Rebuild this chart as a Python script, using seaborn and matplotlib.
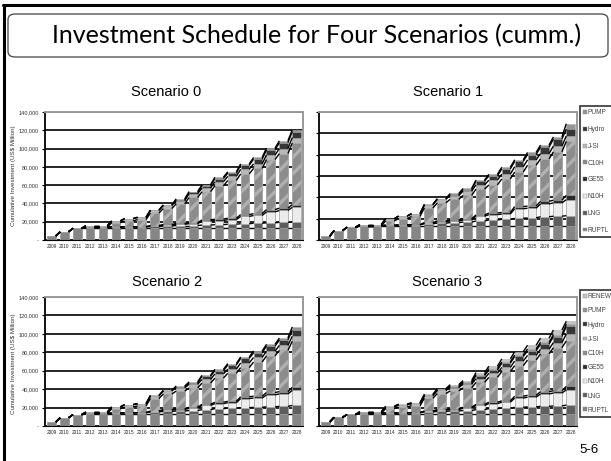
import matplotlib
matplotlib.use("Agg")
import matplotlib.pyplot as plt
from matplotlib.patches import Patch, FancyBboxPatch
from matplotlib.lines import Line2D
import numpy as np
import pandas as pd
import seaborn as sns

# ---- data: cumulative investment per technology (stacked), 2009-2028 ----
years = [str(y) for y in range(2009, 2029)]
techs = ["RUPTL", "LNG", "N10H", "GE55", "C10H", "J-SI", "Hydro", "PUMP", "RENEW"]

scenario0 = {
    "RUPTL": [4400, 9000, 12800, 12800, 12800, 12800, 12800, 12800, 12800, 12800, 12800, 12800, 12800, 12800, 12800, 12800, 12800, 12800, 12800, 12800],
    "LNG":   [0, 0, 0, 1400, 1400, 1500, 1600, 1700, 2000, 2500, 3000, 3000, 3500, 4000, 4500, 5000, 5500, 6000, 6500, 7000],
    "N10H":  [0, 0, 0, 0, 0, 0, 0, 0, 500, 1000, 1500, 2000, 4500, 4500, 5000, 8000, 8500, 12000, 13000, 16000],
    "GE55":  [0, 0, 0, 0, 0, 0, 0, 0, 500, 600, 800, 1000, 1200, 1500, 1500, 2000, 2000, 2500, 2500, 3000],
    "C10H":  [0, 0, 0, 0, 0, 4500, 6500, 7800, 13600, 17500, 21400, 27700, 30800, 36400, 41300, 44500, 49500, 54700, 59700, 67300],
    "J-SI":  [0, 0, 0, 1500, 1500, 2000, 2500, 2500, 3000, 3500, 3500, 4000, 4000, 4500, 4500, 5000, 5000, 5000, 5500, 6000],
    "Hydro": [0, 0, 0, 0, 0, 0, 0, 0, 0, 0, 1000, 1500, 2500, 3500, 3500, 4500, 5000, 5500, 6500, 6500],
    "PUMP":  [0, 0, 0, 0, 0, 0, 0, 0, 500, 500, 1000, 1000, 1000, 1500, 1500, 1500, 2000, 2000, 2000, 2000],
}

scenario1 = {
    "RUPTL": [3500, 8800, 12000, 12800, 12800, 12800, 12800, 12800, 12800, 12800, 12800, 12800, 12800, 12800, 12800, 12800, 12800, 12800, 12800, 12800],
    "LNG":   [0, 0, 0, 700, 700, 1000, 1200, 1500, 2500, 3000, 3500, 4000, 5000, 6000, 6500, 7500, 8000, 9000, 9500, 10000],
    "N10H":  [0, 0, 0, 0, 0, 0, 0, 0, 500, 1500, 1500, 2000, 4500, 5000, 5000, 9000, 9000, 12000, 12500, 15000],
    "GE55":  [0, 0, 0, 0, 0, 0, 0, 0, 500, 600, 800, 1000, 1200, 1500, 1500, 2000, 2000, 2500, 2500, 4000],
    "C10H":  [0, 0, 0, 0, 0, 4000, 6000, 7800, 13700, 16900, 19500, 22000, 24200, 26300, 31400, 32400, 38300, 39700, 45300, 50700],
    "J-SI":  [0, 0, 0, 1000, 1000, 2100, 2400, 2500, 3000, 3500, 3500, 4000, 4000, 4500, 4500, 5000, 5000, 5000, 5500, 5000],
    "Hydro": [0, 0, 0, 0, 0, 0, 0, 0, 0, 0, 1000, 1500, 3500, 4000, 5000, 5000, 5000, 6000, 6500, 6500],
    "PUMP":  [0, 0, 0, 0, 0, 0, 0, 0, 500, 500, 1000, 1000, 1000, 1500, 1500, 1500, 2000, 2000, 2000, 5000],
}

scenario2 = {
    "RUPTL": [4300, 9000, 12300, 12800, 12800, 12800, 12800, 12800, 12800, 12800, 12800, 12800, 12800, 12800, 12800, 12800, 12800, 12800, 12800, 12800],
    "LNG":   [0, 0, 0, 1000, 1000, 1200, 1500, 1700, 2500, 3000, 3500, 4000, 5000, 6000, 6500, 7000, 7500, 8000, 8500, 9600],
    "N10H":  [0, 0, 0, 0, 0, 0, 0, 0, 500, 1500, 1500, 2500, 4500, 5500, 6000, 10000, 10000, 13000, 13500, 16300],
    "GE55":  [0, 0, 0, 0, 0, 0, 0, 0, 500, 600, 800, 1000, 1200, 1500, 1500, 2000, 2000, 2500, 2500, 3300],
    "C10H":  [0, 0, 0, 0, 0, 4500, 6500, 7200, 13500, 16800, 19300, 21000, 23000, 26200, 30400, 31600, 37100, 39800, 44700, 50000],
    "J-SI":  [0, 0, 0, 1400, 1400, 2100, 2400, 2500, 3000, 3500, 3500, 4000, 4000, 4500, 4500, 5000, 5000, 5000, 5500, 5300],
    "Hydro": [0, 0, 0, 0, 0, 0, 0, 0, 0, 0, 1000, 1500, 3500, 3500, 4500, 5000, 5000, 5500, 6000, 6500],
    "PUMP":  [0, 0, 0, 0, 0, 0, 0, 0, 500, 500, 1000, 1000, 1000, 1500, 1500, 1500, 2000, 2000, 2000, 3700],
}

scenario3 = {
    "RUPTL": [4400, 9400, 12500, 12800, 12800, 12800, 12800, 12800, 12800, 12800, 12800, 12800, 12800, 12800, 12800, 12800, 12800, 12800, 12800, 12800],
    "LNG":   [0, 0, 0, 1000, 1000, 1300, 1500, 1700, 2500, 3000, 3500, 4000, 5000, 6000, 6500, 7500, 8000, 8500, 9000, 9900],
    "N10H":  [0, 0, 0, 0, 0, 0, 0, 0, 500, 1500, 1500, 2500, 4500, 5500, 6500, 10000, 10500, 13500, 14000, 16500],
    "GE55":  [0, 0, 0, 0, 0, 0, 0, 0, 500, 600, 800, 1000, 1200, 1500, 1500, 2000, 2000, 2500, 2500, 3700],
    "C10H":  [0, 0, 0, 0, 0, 4700, 6500, 7500, 13800, 17300, 19500, 21000, 23800, 27000, 31800, 33200, 38300, 41000, 46700, 49400],
    "J-SI":  [0, 0, 0, 1600, 1600, 2000, 2400, 2500, 3000, 3500, 3500, 4000, 4000, 4500, 4500, 5000, 5000, 5000, 5500, 7400],
    "Hydro": [0, 0, 0, 0, 0, 0, 0, 0, 0, 0, 1000, 1500, 3500, 3500, 4500, 5000, 5000, 5500, 6500, 8300],
    "PUMP":  [0, 0, 0, 0, 0, 0, 0, 0, 500, 500, 1000, 1000, 1000, 1500, 1500, 1500, 2000, 2000, 2000, 2700],
    "RENEW": [0, 0, 0, 0, 0, 500, 600, 800, 1000, 1300, 1300, 1500, 2200, 2600, 3200, 3600, 4000, 4500, 5200, 2900],
}

scenario_titles = ["Scenario 0", "Scenario 1", "Scenario 2", "Scenario 3"]
y_ticks_full = [0, 20000, 40000, 60000, 80000, 100000, 120000, 140000]
y_tick_labels = ["-", "20,000", "40,000", "60,000", "80,000", "100,000", "120,000", "140,000"]
y_label = "Cumulative Investment (US$ Million)"

# ---- styling per technology ----
fills = {
    "RUPTL": "#868686", "LNG": "#5e5e5e", "N10H": "#ececec", "GE55": "#2a2a2a",
    "C10H": "#8c8c8c", "J-SI": "#b8b8b8", "Hydro": "#363636", "PUMP": "#959595",
    "RENEW": "#c4c4c4",
}
hatches = {"C10H": "//"}

sns.set_theme(style="white")
plt.rcParams["font.family"] = ["Liberation Sans", "DejaVu Sans"]
plt.rcParams["hatch.color"] = "#5c5c5c"
plt.rcParams["hatch.linewidth"] = 2.4

W, H = 611, 461
fig = plt.figure(figsize=(W / 100, H / 100), dpi=100)
fig.patch.set_facecolor("white")


def fx(px):
    return px / W


def fy(py):
    return 1 - py / H


BAR_W = 0.66


def draw_scenario(ax, data, ymax, show_labels):
    layers = [t for t in techs if t in data]
    df = pd.DataFrame(data, index=years)[layers]
    cum = df.cumsum(axis=1)
    # tallest stack first, lower stacks painted on top of it
    for t in reversed(layers):
        sns.barplot(x=years, y=cum[t].values, color=fills[t], saturation=1,
                    width=BAR_W, edgecolor="#b0b0b0", linewidth=0.4,
                    hatch=hatches.get(t), ax=ax, zorder=2)
    # series lines joining the top of each segment between neighbouring bars
    xs = np.arange(len(years))
    for t in layers:
        c = cum[t].values
        for i in range(len(years) - 1):
            ax.plot([xs[i] + BAR_W / 2, xs[i + 1] - BAR_W / 2], [c[i], c[i + 1]],
                    color="black", lw=1.0, zorder=3, solid_capstyle="butt")
    ax.set_xlim(-0.5, len(years) - 0.5)
    ax.set_ylim(0, ymax)
    ticks = [v for v in y_ticks_full if v <= ymax]
    ax.set_yticks(ticks)
    if show_labels:
        ax.set_yticklabels(y_tick_labels[:len(ticks)], fontsize=4)
    else:
        ax.set_yticklabels([])
    ax.yaxis.grid(True, color="black", lw=1.2, zorder=0)
    ax.set_axisbelow(True)
    ax.tick_params(axis="x", labelsize=3.4, length=0, pad=3)
    ax.tick_params(axis="y", length=2.5, width=0.8, color="black", pad=2,
                   left=True, labelcolor="#333333")
    ax.set_xlabel("")
    ax.set_ylabel("")
    for side in ["top", "right"]:
        ax.spines[side].set_color("#9a9a9a")
        ax.spines[side].set_linewidth(1.4)
        ax.spines[side].set_visible(True)
    ax.spines["left"].set_color("black")
    ax.spines["left"].set_linewidth(1.3)
    ax.spines["bottom"].set_color("black")
    ax.spines["bottom"].set_linewidth(0.8)


# plot areas (pixel boxes: left, top, right, bottom)
boxes = [(45, 112, 303, 240), (319, 112, 577, 240), (45, 297, 303, 426), (319, 297, 577, 426)]
datasets = [scenario0, scenario1, scenario2, scenario3]
ymaxes = [140000, 120000, 140000, 140000]
axes = []
for i, (box, d, ym) in enumerate(zip(boxes, datasets, ymaxes)):
    l, t, r, b = box
    ax = fig.add_axes([fx(l), fy(b), fx(r - l), (b - t) / H])
    draw_scenario(ax, d, ym, show_labels=(i % 2 == 0))
    axes.append(ax)

# subplot titles
title_pos = [(166, 92), (448, 92), (167, 282), (447, 282)]
for (x, y), s in zip(title_pos, scenario_titles):
    fig.text(fx(x), fy(y), s, ha="center", va="center", fontsize=10.5, color="black")

# rotated axis captions
for yc in [176, 364]:
    fig.text(fx(14), fy(yc), y_label, rotation=90, ha="center", va="center",
             fontsize=4.5, color="#333333")


# legends (top row without RENEW, bottom row with it)
def legend_handles(names):
    return [Patch(facecolor=fills[n], edgecolor="#888888", linewidth=0.3,
                  hatch=hatches.get(n)) for n in names]


top_names = ["PUMP", "Hydro", "J-SI", "C10H", "GE55", "N10H", "LNG", "RUPTL"]
bot_names = ["RENEW", "PUMP", "Hydro", "J-SI", "C10H", "GE55", "N10H", "LNG", "RUPTL"]
for names, top, spacing in [(top_names, 106, 1.5), (bot_names, 290, 1.1)]:
    leg = fig.legend(legend_handles(names), names, loc="upper left",
                     bbox_to_anchor=(fx(580), fy(top)), fontsize=4.7,
                     frameon=True, fancybox=False, edgecolor="black",
                     handlelength=0.55, handleheight=0.55, handletextpad=0.15,
                     labelspacing=spacing, borderpad=0.5, borderaxespad=0)
    leg.get_frame().set_linewidth(1.2)
    for txt in leg.get_texts():
        txt.set_color("#444444")

# slide frame and title banner
fig.add_artist(Line2D([fx(3.5), fx(3.5)], [fy(5), fy(461)], color="black", lw=2.2))
fig.add_artist(Line2D([fx(3), fx(611)], [fy(5), fy(5)], color="black", lw=2.2))
banner = FancyBboxPatch((fx(8), fy(57)), fx(600), (57 - 14) / H,
                        boxstyle="round,pad=0,rounding_size=0.012",
                        transform=fig.transFigure, facecolor="white",
                        edgecolor="#444444", lw=0.9)
fig.add_artist(banner)
fig.text(fx(317), fy(36), "Investment Schedule for Four Scenarios (cumm.)",
         ha="center", va="center", fontsize=18, family=["Lato", "DejaVu Sans"],
         color="black")
fig.text(fx(589), fy(450), "5-6", ha="center", va="center", fontsize=9.5, color="black")

fig.savefig("out.png", dpi=100)
